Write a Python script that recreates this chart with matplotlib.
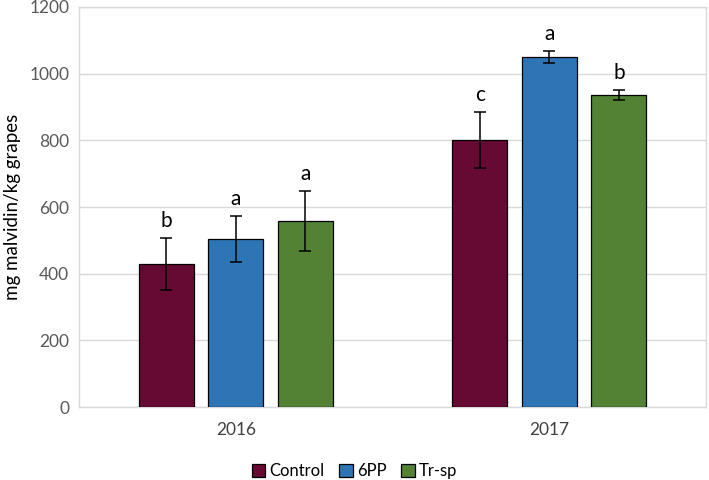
import matplotlib
matplotlib.use("Agg")
import matplotlib.pyplot as plt
import numpy as np

plt.rcParams['font.family'] = ['Lato', 'DejaVu Sans']

years = ["2016", "2017"]
series = ["Control", "6PP", "Tr-sp"]
values = {
    "Control": [428, 800],
    "6PP": [504, 1050],
    "Tr-sp": [558, 936],
}
errors = {
    "Control": [78, 84],
    "6PP": [70, 17],
    "Tr-sp": [89, 16],
}
letters = {
    "Control": ["b", "c"],
    "6PP": ["a", "a"],
    "Tr-sp": ["a", "b"],
}
colors = {"Control": "#660933", "6PP": "#2E75B6", "Tr-sp": "#548235"}
yticks = [0, 200, 400, 600, 800, 1000, 1200]

fig = plt.figure(figsize=(7.09, 4.80), dpi=100)
ax = fig.add_axes([79/709, 1 - 407/480, (706-79)/709, 400/480])

x = np.arange(len(years))
width = 0.176
offsets = [-0.222, 0.0, 0.222]
for s, off in zip(series, offsets):
    ax.bar(x + off, values[s], width, color=colors[s], edgecolor="black",
           linewidth=0.9, label=s, zorder=3,
           yerr=errors[s], capsize=4,
           error_kw=dict(ecolor="black", elinewidth=1.1, capthick=1.1, zorder=4))
    for xi, v, e, l in zip(x + off, values[s], errors[s], letters[s]):
        ax.annotate(l, (xi, v + e), xytext=(0, 5), textcoords="offset points",
                    ha="center", va="bottom", fontsize=15, color="black")

ax.set_xlim(-0.5, 1.5)
ax.set_ylim(0, 1200)
ax.set_yticks(yticks)
ax.set_yticklabels([str(t) for t in yticks], color="#595959", fontsize=12.5)
ax.set_xticks(x)
ax.set_xticklabels(years, color="#404040", fontsize=12.5)
ax.tick_params(length=0, pad=7)
ax.tick_params(axis='x', pad=11)
ax.grid(axis='y', color="#D9D9D9", linewidth=1, zorder=0)
for sp in ax.spines.values():
    sp.set_color("#D9D9D9")
    sp.set_linewidth(1)
ax.set_ylabel("mg malvidin/kg grapes", fontsize=13.5, color="black", labelpad=6)

fig.legend(loc="center", bbox_to_anchor=(0.5, 0.018), ncol=3, frameon=False,
           fontsize=12, handlelength=0.8, handleheight=0.8, handletextpad=0.25,
           columnspacing=0.9)

fig.savefig("out.png", dpi=100)
